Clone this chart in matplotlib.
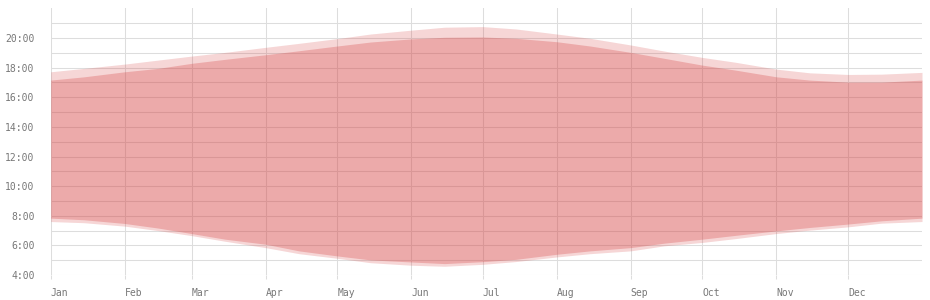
"""
日出日落图
"""

import matplotlib
matplotlib.use('Agg')
import matplotlib.pyplot as plt
from matplotlib.ticker import FixedLocator

# day of year for each sample (1st and mid month)
days = [0, 14, 31, 45, 59, 73, 90, 104, 120, 134, 151, 165, 181,
        195, 212, 226, 243, 257, 273, 287, 304, 318, 334, 348, 365]

# times in decimal hours
dawn = [7.61, 7.53, 7.30, 7.00, 6.66, 6.28, 5.85, 5.44, 5.13, 4.83, 4.66, 4.59, 4.72,
        4.91, 5.22, 5.44, 5.63, 5.97, 6.20, 6.46, 6.80, 7.03, 7.25, 7.50, 7.61]
sunrise = [7.84, 7.73, 7.48, 7.17, 6.80, 6.42, 6.08, 5.63, 5.29, 5.02, 4.88, 4.77, 4.90,
           5.06, 5.40, 5.63, 5.85, 6.15, 6.42, 6.68, 6.98, 7.21, 7.44, 7.66, 7.84]
sunset = [17.16, 17.38, 17.72, 17.95, 18.29, 18.56, 18.87, 19.14, 19.46, 19.73, 19.94, 20.05, 20.07,
          19.98, 19.75, 19.46, 19.03, 18.63, 18.17, 17.83, 17.38, 17.16, 17.02, 17.02, 17.16]
dusk = [17.72, 17.95, 18.24, 18.51, 18.78, 19.03, 19.37, 19.64, 19.96, 20.27, 20.53, 20.73, 20.77,
        20.61, 20.27, 19.98, 19.53, 19.12, 18.69, 18.36, 17.90, 17.65, 17.54, 17.56, 17.68]

month_starts = [0, 31, 59, 90, 120, 151, 181, 212, 243, 273, 304, 334]
month_labels = ['Jan', 'Feb', 'Mar', 'Apr', 'May', 'Jun',
                'Jul', 'Aug', 'Sep', 'Oct', 'Nov', 'Dec']
hour_ticks = [4, 6, 8, 10, 12, 14, 16, 18, 20]

fig = plt.figure(figsize=(9.3, 3.0), dpi=100)
ax = fig.add_axes([0.0545, 0.0833, 0.9369, 0.8887])

grid_color = '#dddddd'
fill_color = '#d74646'

# 暮光带 + 白天
ax.fill_between(days, dawn, dusk, color=fill_color, alpha=0.22, linewidth=0, zorder=2)
ax.fill_between(days, sunrise, sunset, color=fill_color, alpha=0.305, linewidth=0, zorder=3)

ax.set_xlim(0, 365)
ax.set_ylim(4, 22)

ax.xaxis.set_major_locator(FixedLocator(month_starts))
ax.set_xticklabels(month_labels)
ax.yaxis.set_major_locator(FixedLocator(hour_ticks))
ax.yaxis.set_minor_locator(FixedLocator(list(range(5, 22, 2))))
ax.set_yticklabels([f'{h}:00' for h in hour_ticks])

ax.grid(True, which='both', color=grid_color, linewidth=0.75, zorder=1)
ax.set_axisbelow(True)
for s in ax.spines.values():
    s.set_visible(False)

mono = 'DejaVu Sans Mono'
ax.tick_params(axis='x', length=3.2, width=0.75, color=grid_color, pad=6.5,
               labelsize=7, labelcolor='#777777')
ax.tick_params(axis='y', which='both', length=0, pad=11.5,
               labelsize=7, labelcolor='#777777')
for lab in ax.get_xticklabels():
    lab.set_fontfamily(mono)
    lab.set_horizontalalignment('left')
for lab in ax.get_yticklabels():
    lab.set_fontfamily(mono)

fig.savefig('out.png', dpi=100)
plt.close(fig)
